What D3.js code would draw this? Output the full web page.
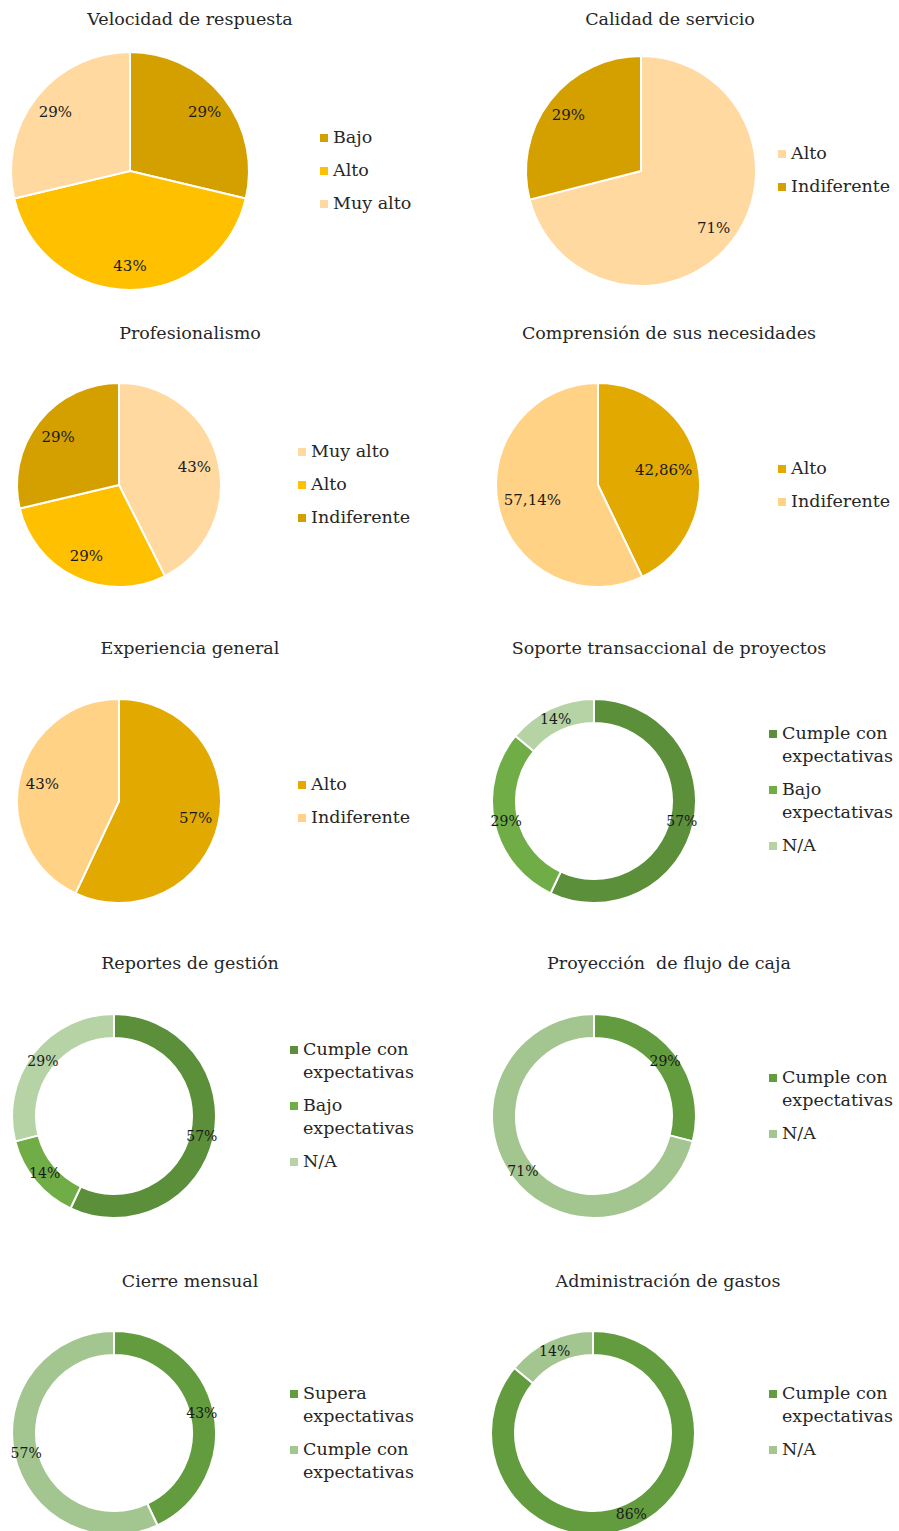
<!DOCTYPE html>
<html>
<head>
<meta charset="utf-8">
<script src="https://cdn.jsdelivr.net/npm/d3@7"></script>
<style>
  body { margin: 0; background: #fff; }
  svg { display: block; }
  text { font-family: Georgia, "DejaVu Serif", serif; fill: #262626; }
</style>
</head>
<body>
<div id="chart"></div>
<script>
// ---- data ----
const velocidadCats = ["Bajo", "Alto", "Muy alto"];
const velocidadVals = [29, 43, 29];

const calidadCats = ["Alto", "Indiferente"];
const calidadVals = [71, 29];

const profesionalismoCats = ["Muy alto", "Alto", "Indiferente"];
const profesionalismoVals = [43, 29, 29];

const comprensionCats = ["Alto", "Indiferente"];
const comprensionVals = [42.86, 57.14];

const experienciaCats = ["Alto", "Indiferente"];
const experienciaVals = [57, 43];

const soporteCats = ["Cumple con expectativas", "Bajo expectativas", "N/A"];
const soporteVals = [57, 29, 14];

const reportesCats = ["Cumple con expectativas", "Bajo expectativas", "N/A"];
const reportesVals = [57, 14, 29];

const proyeccionCats = ["Cumple con expectativas", "N/A"];
const proyeccionVals = [29, 71];

const cierreCats = ["Supera expectativas", "Cumple con expectativas"];
const cierreVals = [43, 57];

const gastosCats = ["Cumple con expectativas", "N/A"];
const gastosVals = [86, 14];

// ---- colours ----
const gold = { dark: "#d4a000", mid: "#ffc000", light: "#ffd9a0", amber: "#e2aa00", peach: "#ffd285" };
const green = { dark: "#5b8f3a", mid: "#70ad47", pale: "#b5d3a5", leaf: "#629c3f", sage: "#a3c58f" };

// ---- layout for each panel ----
const charts = [
  { title: "Velocidad de respuesta", cats: velocidadCats, vals: velocidadVals,
    colors: [gold.dark, gold.mid, gold.light], tx: 190, ty: 19, cx: 130, cy: 171, r: 119, ir: 0, lf: 0.8, lx: 320, ly: 137 },
  { title: "Calidad de servicio", cats: calidadCats, vals: calidadVals,
    colors: [gold.light, gold.dark], tx: 670, ty: 19, cx: 641, cy: 171, r: 115, ir: 0, lf: 0.8, lx: 778, ly: 153 },
  { title: "Profesionalismo", cats: profesionalismoCats, vals: profesionalismoVals,
    colors: [gold.light, gold.mid, gold.dark], tx: 190, ty: 333, cx: 119, cy: 485, r: 102, ir: 0, lf: 0.76, lx: 298, ly: 451 },
  { title: "Comprensión de sus necesidades", cats: comprensionCats, vals: comprensionVals, decimals: true,
    colors: [gold.amber, gold.peach], tx: 669, ty: 333, cx: 598, cy: 485, r: 102, ir: 0, lf: 0.66, lx: 778, ly: 468 },
  { title: "Experiencia general", cats: experienciaCats, vals: experienciaVals,
    colors: [gold.amber, gold.peach], tx: 190, ty: 648, cx: 119, cy: 801, r: 102, ir: 0, lf: 0.77, lx: 298, ly: 784 },
  { title: "Soporte transaccional de proyectos", cats: soporteCats, vals: soporteVals,
    colors: [green.dark, green.mid, green.pale], tx: 669, ty: 648, cx: 594, cy: 801, r: 102, ir: 78, lx: 769, ly: 733 },
  { title: "Reportes de gestión", cats: reportesCats, vals: reportesVals,
    colors: [green.dark, green.mid, green.pale], tx: 190, ty: 963, cx: 114, cy: 1116, r: 102, ir: 78, lx: 290, ly: 1049 },
  { title: "Proyección  de flujo de caja", cats: proyeccionCats, vals: proyeccionVals,
    colors: [green.leaf, green.sage], tx: 669, ty: 963, cx: 594, cy: 1116, r: 102, ir: 78, lx: 769, ly: 1077 },
  { title: "Cierre mensual", cats: cierreCats, vals: cierreVals,
    colors: [green.leaf, green.sage], tx: 190, ty: 1281, cx: 114, cy: 1433, r: 102, ir: 78, lx: 290, ly: 1393 },
  { title: "Administración de gastos", cats: gastosCats, vals: gastosVals,
    colors: [green.leaf, green.sage], tx: 668, ty: 1281, cx: 593, cy: 1433, r: 102, ir: 78, lx: 769, ly: 1393 }
];

const width = 899, height = 1531;

const svg = d3.select("#chart")
  .append("svg")
  .attr("width", width)
  .attr("height", height);

svg.append("rect").attr("width", width).attr("height", height).attr("fill", "#fff");

const pie = d3.pie().sort(null).value(d => d);

function splitLegend(cat) {
  const idx = cat.lastIndexOf(" expectativas");
  return idx > 0 ? [cat.slice(0, idx), "expectativas"] : [cat];
}

charts.forEach(c => {
  // title
  svg.append("text")
    .attr("x", c.tx)
    .attr("y", c.ty)
    .attr("dy", "0.35em")
    .attr("text-anchor", "middle")
    .style("font-size", "17.5px")
    .style("white-space", "pre")
    .text(c.title);

  const g = svg.append("g").attr("transform", `translate(${c.cx},${c.cy})`);

  const arc = d3.arc().innerRadius(c.ir).outerRadius(c.r);
  const labelR = c.ir > 0 ? (c.ir + c.r) / 2 : c.r * c.lf;
  const labelArc = d3.arc().innerRadius(labelR).outerRadius(labelR);

  const arcs = pie(c.vals);

  g.selectAll("path")
    .data(arcs)
    .enter()
    .append("path")
    .attr("d", arc)
    .attr("fill", (d, i) => c.colors[i])
    .attr("stroke", "#fff")
    .attr("stroke-width", 2);

  const fmt = c.decimals
    ? v => v.toFixed(2).replace(".", ",") + "%"
    : v => d3.format("d")(v) + "%";

  g.selectAll(".lbl")
    .data(arcs)
    .enter()
    .append("text")
    .attr("class", "lbl")
    .attr("transform", d => `translate(${labelArc.centroid(d)})`)
    .attr("dy", "0.35em")
    .attr("text-anchor", "middle")
    .style("font-size", c.ir > 0 ? "14px" : "15px")
    .style("fill", "#1a1a1a")
    .text(d => fmt(d.data));

  // legend
  let y = c.ly;
  c.cats.forEach((cat, i) => {
    const lines = splitLegend(cat);
    svg.append("rect")
      .attr("x", c.lx)
      .attr("y", y - 3)
      .attr("width", 8)
      .attr("height", 8)
      .attr("fill", c.colors[i]);
    lines.forEach((ln, k) => {
      svg.append("text")
        .attr("x", c.lx + 13)
        .attr("y", y + k * 23)
        .attr("dy", "0.35em")
        .style("font-size", "17.5px")
        .text(ln);
    });
    y += 33 + (lines.length - 1) * 23;
  });
});
</script>
</body>
</html>
